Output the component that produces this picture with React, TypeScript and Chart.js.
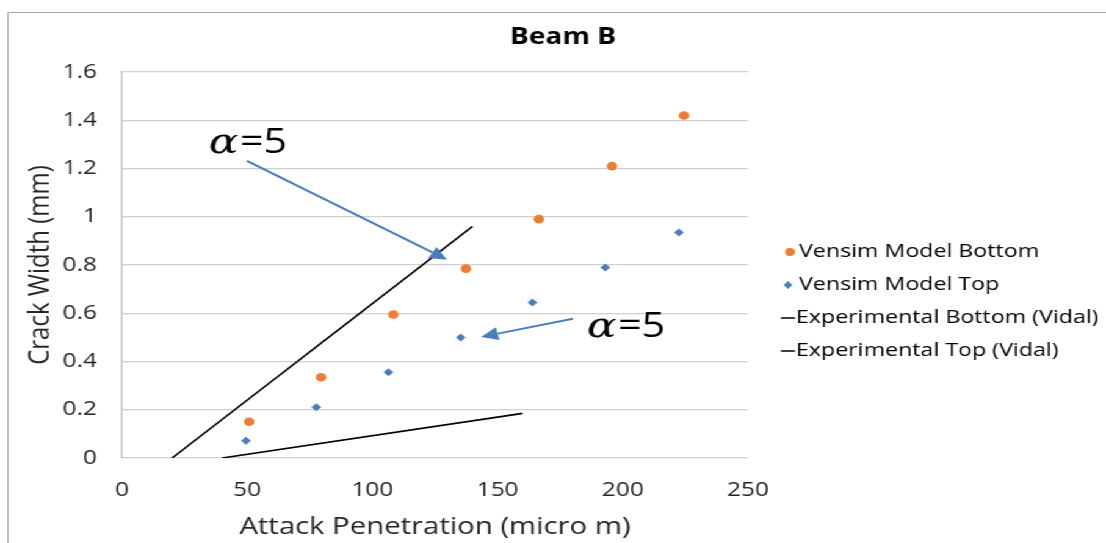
import React, { useEffect, useRef } from 'react';
import { Chart, registerables } from 'chart.js';

Chart.register(...registerables);

const chartTitle = 'Beam B';
const xAxisTitle = 'Attack Penetration (micro m)';
const yAxisTitle = 'Crack Width (mm)';
const seriesNames = [
  'Vensim Model Bottom',
  'Vensim Model Top',
  'Experimental Bottom (Vidal)',
  'Experimental Top (Vidal)',
];

const bottomX = [50.8, 79.5, 108.4, 137.4, 166.5, 195.7, 224.4];
const bottomY = [0.15, 0.335, 0.595, 0.785, 0.99, 1.21, 1.42];
const topX = [49.5, 77.6, 106.4, 135.3, 163.9, 193.0, 222.4];
const topY = [0.072, 0.21, 0.355, 0.5, 0.645, 0.79, 0.935];
const expBottomX = [20, 140];
const expBottomY = [0, 0.96];
const expTopX = [40, 160];
const expTopY = [0, 0.185];

const xTicks = [0, 50, 100, 150, 200, 250];
const yTicks = [0, 0.2, 0.4, 0.6, 0.8, 1, 1.2, 1.4, 1.6];

// annotation callouts (data units): label anchor + arrow from -> to
const calloutLabelX = [34.7, 185.7];
const calloutLabelY = [1.266, 0.502];
const arrowFromX = [49.9, 180.1];
const arrowFromY = [1.232, 0.577];
const arrowToX = [129.8, 143.4];
const arrowToY = [0.822, 0.502];

const ORANGE = '#ED7D31';
const BLUE = '#4A7EBB';
const FONT = '"Open Sans", "Noto Sans", sans-serif';

// the reference picture is horizontally stretched; draw narrower and stretch
const PAGE_W = 1106;
const PAGE_H = 543;
const CANVAS_W = 906;
const SX = PAGE_W / CANVAS_W;
const px = (pageX: number) => pageX / SX;

const zip = (xs: number[], ys: number[]) => xs.map((x, i) => ({ x, y: ys[i] }));

const decorPlugin = {
  id: 'decor',
  beforeDraw(chart: any) {
    const ctx = chart.ctx;
    ctx.save();
    ctx.fillStyle = '#ffffff';
    ctx.fillRect(0, 0, chart.width, chart.height);
    ctx.strokeStyle = '#a6a6a6';
    ctx.lineWidth = 1;
    ctx.beginPath();
    ctx.moveTo(px(8), chart.height);
    ctx.lineTo(px(8), 12.5);
    ctx.lineTo(chart.width, 12.5);
    ctx.stroke();
    // title
    ctx.fillStyle = '#000000';
    ctx.font = `bold 23px ${FONT}`;
    ctx.textAlign = 'center';
    ctx.textBaseline = 'middle';
    ctx.fillText(chartTitle, px(563), 37);
    ctx.restore();
  },
  afterDatasetsDraw(chart: any) {
    const ctx = chart.ctx;
    const xs = chart.scales.x;
    const ys = chart.scales.y;
    ctx.save();
    for (let i = 0; i < arrowFromX.length; i++) {
      const x1 = xs.getPixelForValue(arrowFromX[i]);
      const y1 = ys.getPixelForValue(arrowFromY[i]);
      const x2 = xs.getPixelForValue(arrowToX[i]);
      const y2 = ys.getPixelForValue(arrowToY[i]);
      const ang = Math.atan2(y2 - y1, x2 - x1);
      const headLen = 14;
      const headHalf = 6.5;
      const bx = x2 - Math.cos(ang) * headLen;
      const by = y2 - Math.sin(ang) * headLen;
      ctx.strokeStyle = BLUE;
      ctx.fillStyle = BLUE;
      ctx.lineWidth = 2;
      ctx.beginPath();
      ctx.moveTo(x1, y1);
      ctx.lineTo(bx, by);
      ctx.stroke();
      ctx.beginPath();
      ctx.moveTo(x2, y2);
      ctx.lineTo(bx + Math.sin(ang) * headHalf, by - Math.cos(ang) * headHalf);
      ctx.lineTo(bx - Math.sin(ang) * headHalf, by + Math.cos(ang) * headHalf);
      ctx.closePath();
      ctx.fill();
    }
    for (let i = 0; i < calloutLabelX.length; i++) {
      const lx = xs.getPixelForValue(calloutLabelX[i]);
      const ly = ys.getPixelForValue(calloutLabelY[i]);
      ctx.fillStyle = '#000000';
      ctx.textAlign = 'left';
      ctx.textBaseline = 'alphabetic';
      ctx.font = `italic 36px "DejaVu Serif", serif`;
      ctx.fillText('α', lx, ly);
      const w = ctx.measureText('α').width;
      ctx.font = `34px ${FONT}`;
      ctx.fillText('=5', lx + w + 1, ly);
    }
    ctx.restore();
  },
  afterDraw(chart: any) {
    const ctx = chart.ctx;
    ctx.save();
    ctx.font = `19px ${FONT}`;
    ctx.textAlign = 'left';
    ctx.textBaseline = 'middle';
    const rows = [252, 285, 318, 351];
    ctx.fillStyle = ORANGE;
    ctx.beginPath();
    ctx.arc(px(790), rows[0], 4, 0, Math.PI * 2);
    ctx.fill();
    ctx.fillStyle = BLUE;
    const dx = px(788);
    ctx.beginPath();
    ctx.moveTo(dx, rows[1] - 4);
    ctx.lineTo(dx + 3.6, rows[1]);
    ctx.lineTo(dx, rows[1] + 4);
    ctx.lineTo(dx - 3.6, rows[1]);
    ctx.closePath();
    ctx.fill();
    ctx.strokeStyle = '#000000';
    ctx.lineWidth = 1.5;
    for (const r of [rows[2], rows[3]]) {
      ctx.beginPath();
      ctx.moveTo(px(781), r);
      ctx.lineTo(px(795), r);
      ctx.stroke();
    }
    ctx.fillStyle = '#000000';
    ctx.fillText(seriesNames[0], px(799), rows[0]);
    ctx.fillText(seriesNames[1], px(799), rows[1]);
    ctx.fillText(seriesNames[2], px(796), rows[2]);
    ctx.fillText(seriesNames[3], px(796), rows[3]);
    ctx.restore();
  },
};

export default function App() {
  const canvasRef = useRef<HTMLCanvasElement | null>(null);

  useEffect(() => {
    if (!canvasRef.current) return;
    const chart = new Chart(canvasRef.current, {
      type: 'scatter',
      data: {
        datasets: [
          {
            label: seriesNames[0],
            data: zip(bottomX, bottomY),
            backgroundColor: ORANGE,
            borderColor: ORANGE,
            pointStyle: 'circle',
            pointRadius: 4.3,
            pointBorderWidth: 0,
            showLine: false,
          },
          {
            label: seriesNames[1],
            data: zip(topX, topY),
            backgroundColor: BLUE,
            borderColor: BLUE,
            pointStyle: 'rectRot',
            pointRadius: 4,
            pointBorderWidth: 0,
            showLine: false,
          },
          {
            label: seriesNames[2],
            data: zip(expBottomX, expBottomY),
            borderColor: '#000000',
            backgroundColor: '#000000',
            borderWidth: 1.6,
            pointRadius: 0,
            showLine: true,
          },
          {
            label: seriesNames[3],
            data: zip(expTopX, expTopY),
            borderColor: '#000000',
            backgroundColor: '#000000',
            borderWidth: 1.6,
            pointRadius: 0,
            showLine: true,
          },
        ],
      },
      options: {
        animation: false,
        responsive: true,
        maintainAspectRatio: false,
        layout: { padding: { top: 72, right: px(PAGE_W - 748), bottom: 0, left: 0 } },
        plugins: {
          legend: { display: false },
          title: { display: false },
          tooltip: { enabled: false },
        },
        scales: {
          x: {
            type: 'linear',
            min: xTicks[0],
            max: xTicks[xTicks.length - 1],
            afterBuildTicks: (scale: any) => {
              scale.ticks = xTicks.map((v) => ({ value: v }));
            },
            afterFit: (scale: any) => {
              scale.height = 85;
            },
            grid: { display: false, drawTicks: false },
            border: { display: false },
            ticks: {
              padding: 20,
              color: '#262626',
              font: { family: FONT, size: 20 },
              maxRotation: 0,
              callback: (v: any) => String(v),
            },
            title: {
              display: true,
              text: xAxisTitle,
              color: '#262626',
              font: { family: FONT, size: 24 },
              padding: { top: 0, bottom: 1 },
            },
          },
          y: {
            type: 'linear',
            min: yTicks[0],
            max: yTicks[yTicks.length - 1],
            afterBuildTicks: (scale: any) => {
              scale.ticks = yTicks.map((v) => ({ value: v }));
            },
            afterFit: (scale: any) => {
              scale.width = px(122);
            },
            grid: { color: '#d0d0d0', lineWidth: 1.3, drawTicks: false },
            border: { display: true, color: '#bfbfbf', width: 1.3 },
            ticks: {
              padding: px(122) - px(97),
              color: '#262626',
              font: { family: FONT, size: 20 },
              callback: (v: any) => String(Math.round(v * 10) / 10),
            },
            title: {
              display: true,
              text: yAxisTitle,
              color: '#262626',
              font: { family: FONT, size: 24 },
              padding: { top: px(41) - 14.4, bottom: 0 },
            },
          },
        },
      },
      plugins: [decorPlugin],
    });
    return () => chart.destroy();
  }, []);

  return (
    <div
      style={{
        position: 'fixed',
        left: 0,
        top: 0,
        width: CANVAS_W,
        height: PAGE_H,
        transform: `scaleX(${SX})`,
        transformOrigin: '0 0',
        background: '#ffffff',
      }}
    >
      <canvas ref={canvasRef} />
    </div>
  );
}
